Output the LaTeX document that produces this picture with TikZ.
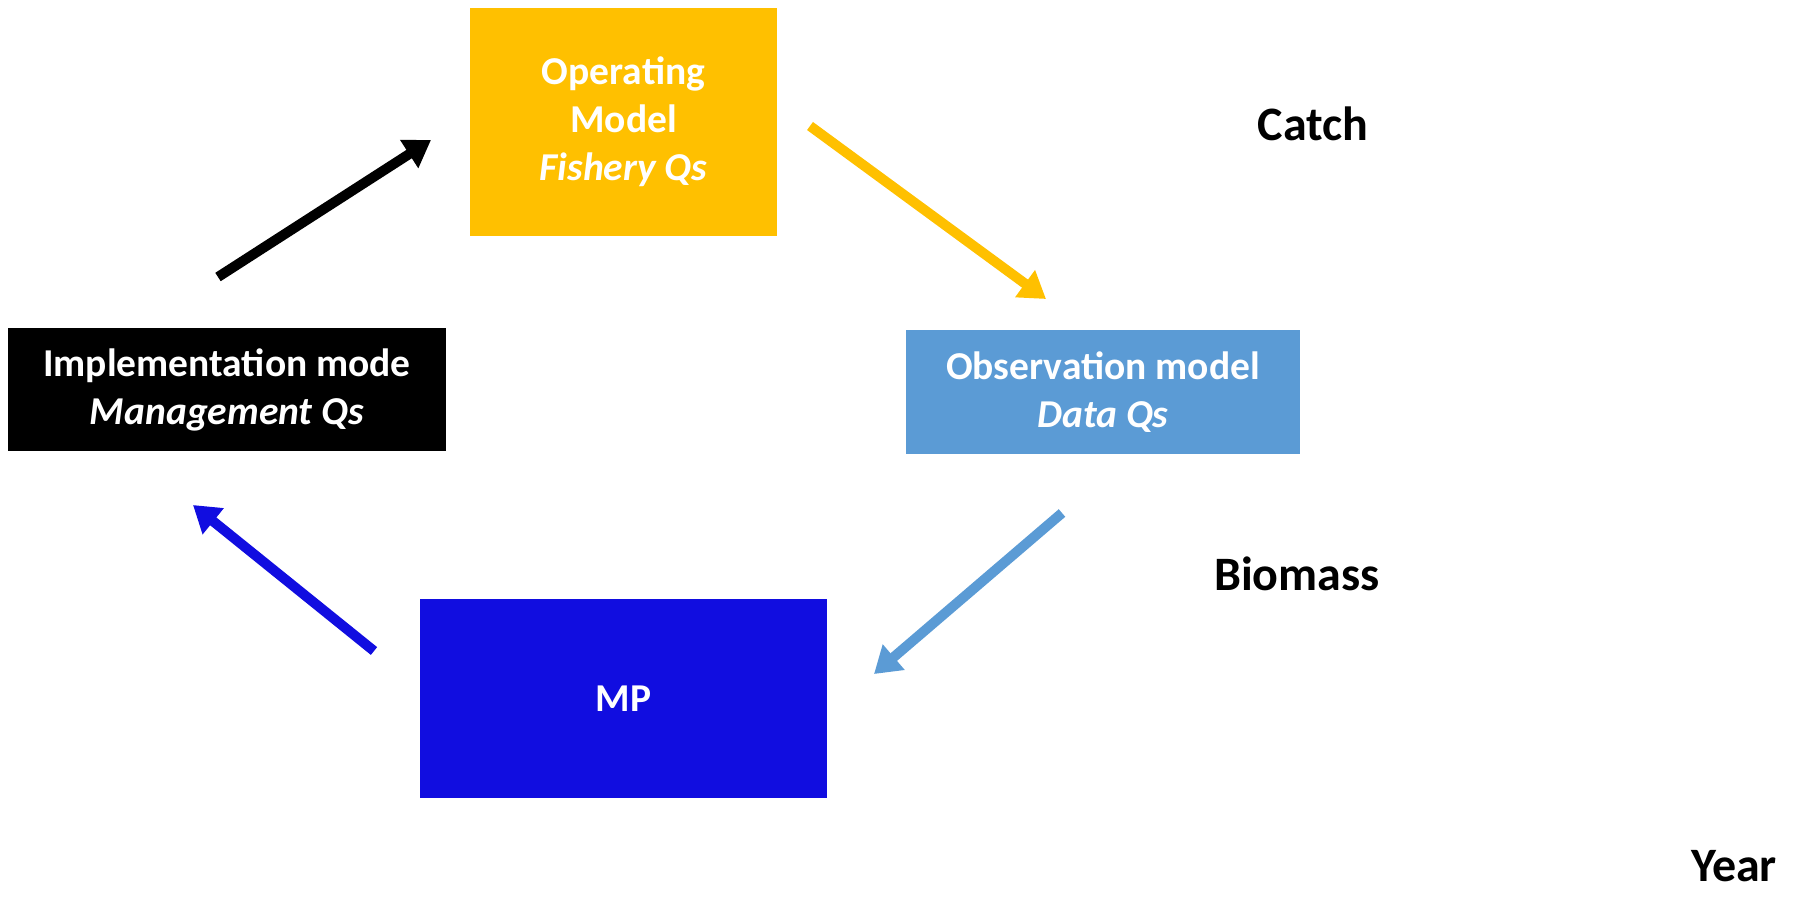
\documentclass[tikz,border=0pt]{standalone}
\usepackage{fontspec}
\setmainfont{Carlito}
\usetikzlibrary{arrows.meta}
\definecolor{opyellow}{RGB}{255,192,0}
\definecolor{obsblue}{RGB}{91,155,213}
\definecolor{mpblue}{RGB}{17,13,224}
\begin{document}
\begin{tikzpicture}
  [x=1pt,y=-1pt,every node/.style={font=\fontsize{39.5}{48}\selectfont\bfseries,align=center,inner sep=0pt},
   box/.style={minimum width=#1,text=white},
   axislabel/.style={font=\fontsize{48}{56}\selectfont\bfseries},
   flow/.style={line width=10pt,-{Triangle[length=26pt,width=32pt]}}]
  \useasboundingbox (0,0) rectangle (1798,898);
  \node[box=307pt,minimum height=228pt,fill=opyellow] (om) at (623.5,122) {Operating\\Model\\\textit{Fishery Qs}};
  \node[box=394pt,minimum height=124pt,fill=obsblue] (obs) at (1103,392) {Observation model\\\textit{Data Qs}};
  \node[box=407pt,minimum height=199pt,fill=mpblue] (mp) at (623.5,698.5) {MP};
  \node[box=438pt,minimum height=123pt,fill=black] (imp) at (227,389.5) {Implementation mode\\\textit{Management Qs}};

  \node[axislabel] (catch) at (1313,124) {Catch};
  \node[axislabel] (bio) at (1297,574) {Biomass};
  \node[axislabel] (year) at (1734,866) {Year};

  \coordinate (a1) at (218,277);  \coordinate (a2) at (431,140);
  \coordinate (b1) at (810,126);  \coordinate (b2) at (1046,299);
  \coordinate (c1) at (1062,513); \coordinate (c2) at (874,674);
  \coordinate (d1) at (374,651);  \coordinate (d2) at (193,505);

  \foreach \from/\to/\col in {a1/a2/black,b1/b2/opyellow,c1/c2/obsblue,d1/d2/mpblue}
    \draw [flow,color=\col] (\from) -- (\to);

\end{tikzpicture}
\end{document}
